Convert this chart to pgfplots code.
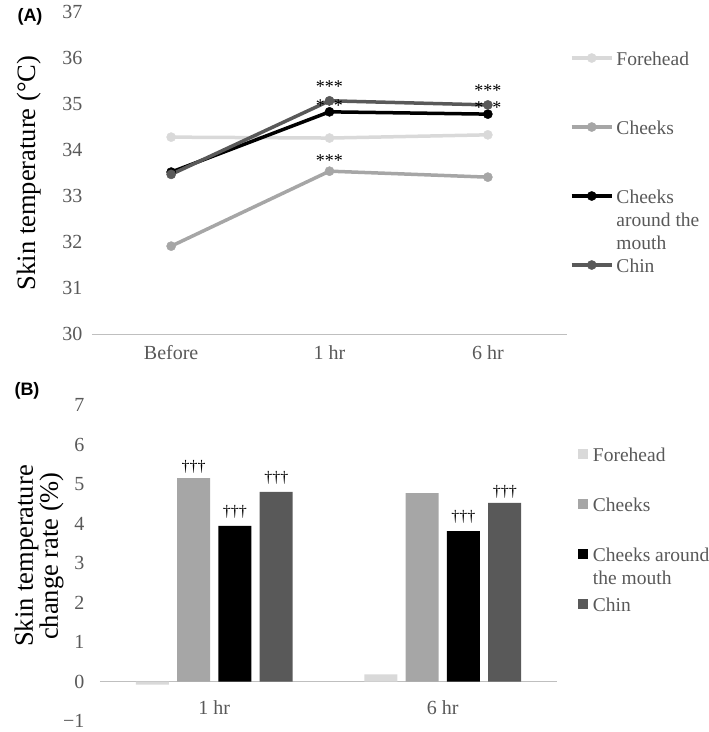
\documentclass[border=0pt]{standalone}
\usepackage{pgfplots}
\pgfplotsset{compat=1.18}
\usepackage{fontspec}
\setmainfont{Liberation Serif}
\newfontfamily\panelfont{Liberation Sans}

\definecolor{cForehead}{HTML}{D9D9D9}
\definecolor{cCheeks}{HTML}{A6A6A6}
\definecolor{cMouth}{HTML}{000000}
\definecolor{cChin}{HTML}{595959}
\definecolor{txtgray}{HTML}{595959}
\definecolor{baseline}{HTML}{D9D9D9}

\pgfplotsset{
  excelish/.style={
    scale only axis,
    clip=false,
    axis x line*=bottom, axis y line*=left,
    axis line style={draw=none},
    major tick length=0pt,
    /pgf/number format/assume math mode=true,
    tick label style={font=\fontsize{20}{24}\selectfont, text=txtgray},
    legend cell align=left,
    legend style={draw=none, fill=none, inner sep=0pt, outer sep=0pt,
      row sep=0pt, text=txtgray, font=\fontsize{19.5}{23}\selectfont},
  },
}

\begin{document}
\begin{tikzpicture}
\path[use as bounding box] (0pt,0pt) rectangle (709pt,-732pt);

% ---- (A) skin temperature
\begin{axis}[
  excelish,
  at={(92pt,-334pt)}, anchor=south west,
  width=475pt, height=322pt,
  xmin=-0.5, xmax=2.5, ymin=30, ymax=37,
  xtick={0,1,2}, xticklabels={Before,1 hr,6 hr},
  ytick={30,31,...,37},
  extra y ticks={30}, extra y tick labels={},
  extra y tick style={grid=major, major grid style={baseline, line width=1pt}},
  yticklabel style={xshift=-6pt},
  xticklabel style={yshift=-8pt},
  every axis y label/.style={at={(axis description cs:-0.12,0.5)}, rotate=90, anchor=base,
    font=\fontsize{26.5}{30}\selectfont},
  ylabel={Skin temperature (°C)},
  every axis plot/.append style={line width=3.5pt, mark=*, mark size=4.6pt,
    mark options={line width=0.4pt},
    legend image code/.code={\draw[mark repeat=2, mark phase=2, ##1] plot coordinates {(0pt,0pt) (20pt,0pt) (40pt,0pt)};}},
  legend style={at={(1.0063,0.9643)}, anchor=north west, column sep=3pt,
    nodes={text height=41.5pt, text depth=27.5pt, inner sep=0pt}},
]
\addplot[color=cForehead] coordinates {(0,34.28) (1,34.26) (2,34.33)};
\addlegendentry{Forehead}
\addplot[color=cCheeks] coordinates {(0,31.91) (1,33.54) (2,33.41)};
\addlegendentry{Cheeks}
\addplot[color=cMouth] coordinates {(0,33.52) (1,34.83) (2,34.78)};
\addlegendentry{\begin{tabular}[t]{@{}l@{}}Cheeks\\around the\\mouth\end{tabular}}
\addplot[color=cChin] coordinates {(0,33.47) (1,35.07) (2,34.98)};
\addlegendentry{Chin}

\tikzset{star/.style={font=\fontsize{18}{18}\selectfont, yshift=-3.5pt}}
\node[star] at (axis cs:1,35.46) {***};
\node[star] at (axis cs:1,35.04) {***};
\node[star] at (axis cs:1,33.85) {***};
\node[star] at (axis cs:2,35.37) {***};
\node[star] at (axis cs:2,35.00) {***};
\end{axis}

% ---- (B) change rate
\begin{axis}[
  excelish,
  at={(100pt,-721pt)}, anchor=south west,
  width=457pt, height=316pt,
  ybar=8.3pt, bar width=33pt,
  xmin=-0.5, xmax=1.5, ymin=-1, ymax=7,
  xtick={0,1}, xticklabels={1 hr,6 hr},
  ytick={-1,0,...,7}, yticklabels={−1,0,1,2,3,4,5,6,7},
  extra y ticks={0}, extra y tick labels={},
  extra y tick style={grid=major, major grid style={baseline, line width=1pt}},
  yticklabel style={xshift=-12pt},
  xticklabel style={yshift=24pt},
  every axis y label/.style={at={(axis description cs:-0.1335,0.522)}, rotate=90,
    anchor=center, align=center, font=\fontsize{26.5}{24}\selectfont},
  ylabel={Skin temperature\\change rate (\%)},
  every axis plot/.append style={draw=none,
    legend image code/.code={\fill[##1] (0pt,-5pt) rectangle (10pt,5pt);}},
  legend style={at={(1.0459,0.9241)}, anchor=north west, column sep=5pt,
    nodes={text height=32pt, text depth=18pt, inner sep=0pt}},
]
\addplot[fill=cForehead] coordinates {(0,-0.08) (1,0.18)};
\addlegendentry{Forehead}
\addplot[fill=cCheeks] coordinates {(0,5.15) (1,4.77)};
\addlegendentry{Cheeks}
\addplot[fill=cMouth] coordinates {(0,3.94) (1,3.81)};
\addlegendentry{\begin{tabular}[t]{@{}l@{}}Cheeks around\\the mouth\end{tabular}}
\addplot[fill=cChin] coordinates {(0,4.80) (1,4.52)};
\addlegendentry{Chin}

\tikzset{dag/.style={font=\fontsize{16}{16}\selectfont}}
\node[dag, xshift=-20.65pt] at (axis cs:0,5.43) {†††};
\node[dag, xshift=20.65pt] at (axis cs:0,4.29) {†††};
\node[dag, xshift=62pt] at (axis cs:0,5.15) {†††};
\node[dag, xshift=20.65pt] at (axis cs:1,4.17) {†††};
\node[dag, xshift=62pt] at (axis cs:1,4.80) {†††};
\end{axis}

\node[font=\panelfont\bfseries\fontsize{18}{18}\selectfont] at (30pt,-17pt) {(A)};
\node[font=\panelfont\bfseries\fontsize{18}{18}\selectfont] at (27pt,-391pt) {(B)};
\end{tikzpicture}
\end{document}
